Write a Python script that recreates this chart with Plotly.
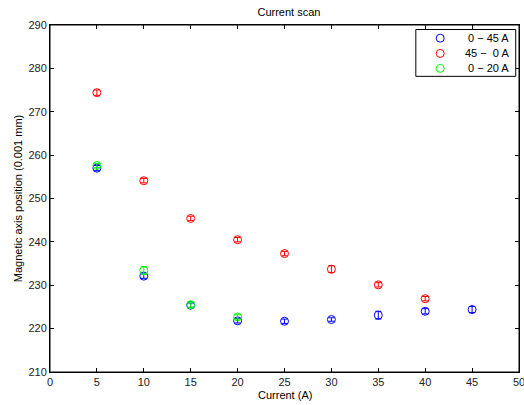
import plotly.graph_objects as go

# Data
x_up45 = [5, 10, 15, 20, 25, 30, 35, 40, 45]
y_up45 = [257.0, 232.1, 225.4, 221.8, 221.7, 222.1, 223.1, 224.0, 224.4]
e_up45 = [0.6, 0.5, 0.5, 0.5, 0.5, 0.4, 0.9, 0.6, 0.7]

x_down = [5, 10, 15, 20, 25, 30, 35, 40]
y_down = [274.4, 254.1, 245.4, 240.5, 237.3, 233.7, 230.1, 226.9]
e_down = [0.6, 0.5, 0.5, 0.5, 0.5, 0.8, 0.5, 0.5]

x_up20 = [5, 10, 15, 20]
y_up20 = [257.6, 233.4, 225.5, 222.7]
e_up20 = [0.5, 0.9, 0.6, 0.5]

names = ["0 \u2212 45 A", "45 \u2212\u00a0\u00a00 A", "0 \u2212 20 A"]
colors = ["#0000ff", "#ff0000", "#00ff00"]
x_ticks = [0, 5, 10, 15, 20, 25, 30, 35, 40, 45, 50]
y_ticks = [210, 220, 230, 240, 250, 260, 270, 280, 290]

fig = go.Figure()
series = [(x_up45, y_up45, e_up45), (x_down, y_down, e_down), (x_up20, y_up20, e_up20)]
for (xs, ys, es), nm, c in zip(series, names, colors):
    fig.add_trace(go.Scatter(
        x=xs, y=ys, mode="markers", name=nm, showlegend=False,
        marker=dict(symbol="circle-open", size=8, color=c, line=dict(width=1, color=c)),
        error_y=dict(type="data", array=es, visible=True, color=c, thickness=1, width=3),
    ))

# Axes box
fig.add_shape(type="rect", xref="paper", yref="paper", x0=0, x1=1, y0=0, y1=1,
              line=dict(color="black", width=1), layer="above")

# Compact boxed legend (MATLAB style)
leg_x0, leg_x1, leg_ytop, leg_ybot = 0.780, 0.993, 0.987, 0.852
fig.add_shape(type="rect", xref="paper", yref="paper", x0=leg_x0, x1=leg_x1,
              y0=leg_ybot, y1=leg_ytop, line=dict(color="black", width=1),
              fillcolor="white", layer="above")
row_y = [0.962, 0.918, 0.875]
for nm, c, ry in zip(names, colors, row_y):
    fig.add_shape(type="circle", xref="paper", yref="paper",
                  xsizemode="pixel", ysizemode="pixel", xanchor=0.832, yanchor=ry,
                  x0=-4, x1=4, y0=-4, y1=4, line=dict(color=c, width=1), layer="above")
    fig.add_annotation(text=nm, xref="paper", yref="paper", x=0.982, y=ry,
                       xanchor="right", yanchor="middle", showarrow=False,
                       font=dict(size=11, color="black"))

# x-axis title placed explicitly
fig.add_annotation(text="Current (A)", xref="paper", yref="paper", x=0.5, y=0,
                   xanchor="center", yanchor="middle", yshift=-23, showarrow=False,
                   font=dict(size=11, color="black"))

axis_common = dict(showline=True, linecolor="black", linewidth=1, mirror="ticks",
                   ticks="inside", ticklen=4, tickcolor="black", showgrid=False,
                   zeroline=False, automargin=False, ticklabeloverflow="allow",
                   tickfont=dict(size=11, color="#222"))

fig.update_layout(
    width=524, height=405,
    margin=dict(l=50, r=5, t=25, b=33),
    paper_bgcolor="white", plot_bgcolor="white",
    font=dict(family="Liberation Sans, Arial, sans-serif", size=11, color="black"),
    title=dict(text="Current scan", x=0.5515, xanchor="center", y=0.969, yanchor="middle",
               font=dict(size=11)),
    xaxis=dict(range=[0, 50], tickvals=x_ticks, **axis_common),
    yaxis=dict(range=[210, 290], tickvals=y_ticks,
               title=dict(text="Magnetic axis position (0.001 mm)", standoff=3, font=dict(size=11)),
               **axis_common),
    showlegend=False,
)

fig.write_html("out.html", config={"displayModeBar": False},
               post_script="document.body.style.margin='0';document.body.style.overflow='hidden';")
